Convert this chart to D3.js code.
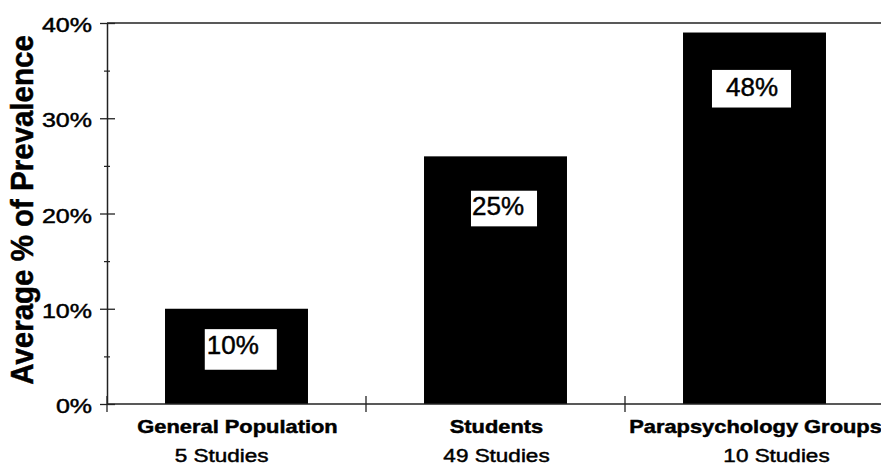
<!DOCTYPE html>
<html>
<head>
<meta charset="utf-8">
<script src="https://cdn.jsdelivr.net/npm/d3@7"></script>
<style>
  html, body { margin: 0; padding: 0; background: #fff; }
  svg { display: block; }
  text { font-family: "Liberation Sans", Arial, sans-serif; fill: #000; stroke: #000; stroke-width: 0.45px; }
</style>
</head>
<body>
<svg id="chart" width="881" height="465"></svg>
<script>
// ---- data ----
const categories = ["General Population", "Students", "Parapsychology Groups"];
const studyCounts = ["5 Studies", "49 Studies", "10 Studies"];
const barValues = [0.10, 0.26, 0.39];
const barLabels = ["10%", "25%", "48%"];
const yMajorTicks = [0, 0.1, 0.2, 0.3, 0.4];
const yMinorTicks = [0.05, 0.15, 0.25, 0.35];
const yTitle = "Average % of Prevalence";

// ---- layout ----
const W = 881, H = 465;
const plotLeft = 107, plotTop = 23, plotBottom = 404, plotRight = 884;
const svg = d3.select("#chart");
const lineColor = "#222";
const SX = 1.25; // horizontal stretch of the scanned text

const x = d3.scaleBand().domain(categories).range([plotLeft, plotRight])
  .paddingInner(0.448).paddingOuter(0.224);
const y = d3.scaleLinear().domain([0, 0.4]).range([plotBottom, plotTop]);

// bars
svg.append("g").selectAll("rect").data(categories).join("rect")
  .attr("x", d => x(d))
  .attr("width", x.bandwidth())
  .attr("y", (d, i) => y(barValues[i]))
  .attr("height", (d, i) => y(0) - y(barValues[i]))
  .attr("fill", "#000");

// top frame line
svg.append("line")
  .attr("x1", plotLeft).attr("x2", W)
  .attr("y1", y(0.4)).attr("y2", y(0.4))
  .attr("stroke", lineColor).attr("stroke-width", 1.5);

// bottom axis line
svg.append("line")
  .attr("x1", plotLeft).attr("x2", W)
  .attr("y1", y(0)).attr("y2", y(0))
  .attr("stroke", lineColor).attr("stroke-width", 1.5);

// category boundary ticks
const boundaries = d3.range(categories.length).map(i => x.range()[0] + i * x.step());
svg.append("g").selectAll("line").data(boundaries).join("line")
  .attr("x1", d => d).attr("x2", d => d)
  .attr("y1", y(0) - 8).attr("y2", y(0) + 8)
  .attr("stroke", lineColor).attr("stroke-width", 1.3);

// y axis (major)
const yAxis = svg.append("g")
  .attr("transform", `translate(${plotLeft},0)`)
  .call(d3.axisLeft(y).tickValues(yMajorTicks).tickSize(7).tickSizeOuter(0)
    .tickFormat(d3.format(".0%")));
yAxis.select(".domain").attr("stroke", lineColor).attr("stroke-width", 1.5);
yAxis.selectAll(".tick line").attr("x1", 8).attr("stroke", lineColor).attr("stroke-width", 1.3);
yAxis.selectAll(".tick text").remove();

// y tick labels (stretched)
svg.append("g").selectAll("text").data(yMajorTicks).join("text")
  .attr("transform", d => `translate(${plotLeft - 15},${y(d) + 9}) scale(${SX},1)`)
  .attr("text-anchor", "end")
  .style("font-size", "20px")
  .text(d => d3.format(".0%")(d));

// y axis (minor)
const yMinor = svg.append("g")
  .attr("transform", `translate(${plotLeft},0)`)
  .call(d3.axisLeft(y).tickValues(yMinorTicks).tickSize(3).tickSizeOuter(0).tickFormat(""));
yMinor.select(".domain").remove();
yMinor.selectAll(".tick line").attr("x1", 3).attr("stroke", lineColor).attr("stroke-width", 1.2);

// y axis title
svg.append("text")
  .attr("transform", `translate(33,${(plotTop + plotBottom) / 2 - 3.5}) scale(1.08,1) rotate(-90)`)
  .attr("text-anchor", "middle")
  .style("font-size", "29.5px").style("font-weight", "bold")
  .text(yTitle);

// category labels
const secondLineShift = [-15, 1, 22];
svg.append("g").selectAll("text").data(categories).join("text")
  .attr("transform", d => `translate(${x(d) + x.bandwidth() / 2 + 1},433) scale(${SX},1)`)
  .attr("text-anchor", "middle")
  .style("font-size", "17.5px").style("font-weight", "bold")
  .text(d => d);
svg.append("g").selectAll("text").data(studyCounts).join("text")
  .attr("transform", (d, i) => `translate(${x(categories[i]) + x.bandwidth() / 2 + secondLineShift[i]},462) scale(${SX},1)`)
  .attr("text-anchor", "middle")
  .style("font-size", "18px")
  .text(d => d);

// value labels in white boxes
const labelDx = [-3.7, 2.5, -2.5];
const labelDy = [45, 59, 63];
const boxPad = [[2, 18, 6, 16], [1, 13, 6, 11], [14, 13, 7, 12]]; // left, right, above cap, below baseline
const labG = svg.append("g");
categories.forEach((c, i) => {
  const cx = x(c) + x.bandwidth() / 2 + labelDx[i];
  const by = y(barValues[i]) + labelDy[i];
  const box = labG.append("rect").attr("fill", "#fff");
  const t = labG.append("text")
    .attr("x", cx).attr("y", by)
    .attr("text-anchor", "middle")
    .style("font-size", "26px")
    .text(barLabels[i]);
  const bb = t.node().getBBox();
  const capTop = by - 26 * 0.716;
  const p = boxPad[i];
  box.attr("x", bb.x - p[0]).attr("width", bb.width + p[0] + p[1])
     .attr("y", capTop - p[2]).attr("height", (by + p[3]) - (capTop - p[2]));
  t.raise();
});
</script>
</body>
</html>
